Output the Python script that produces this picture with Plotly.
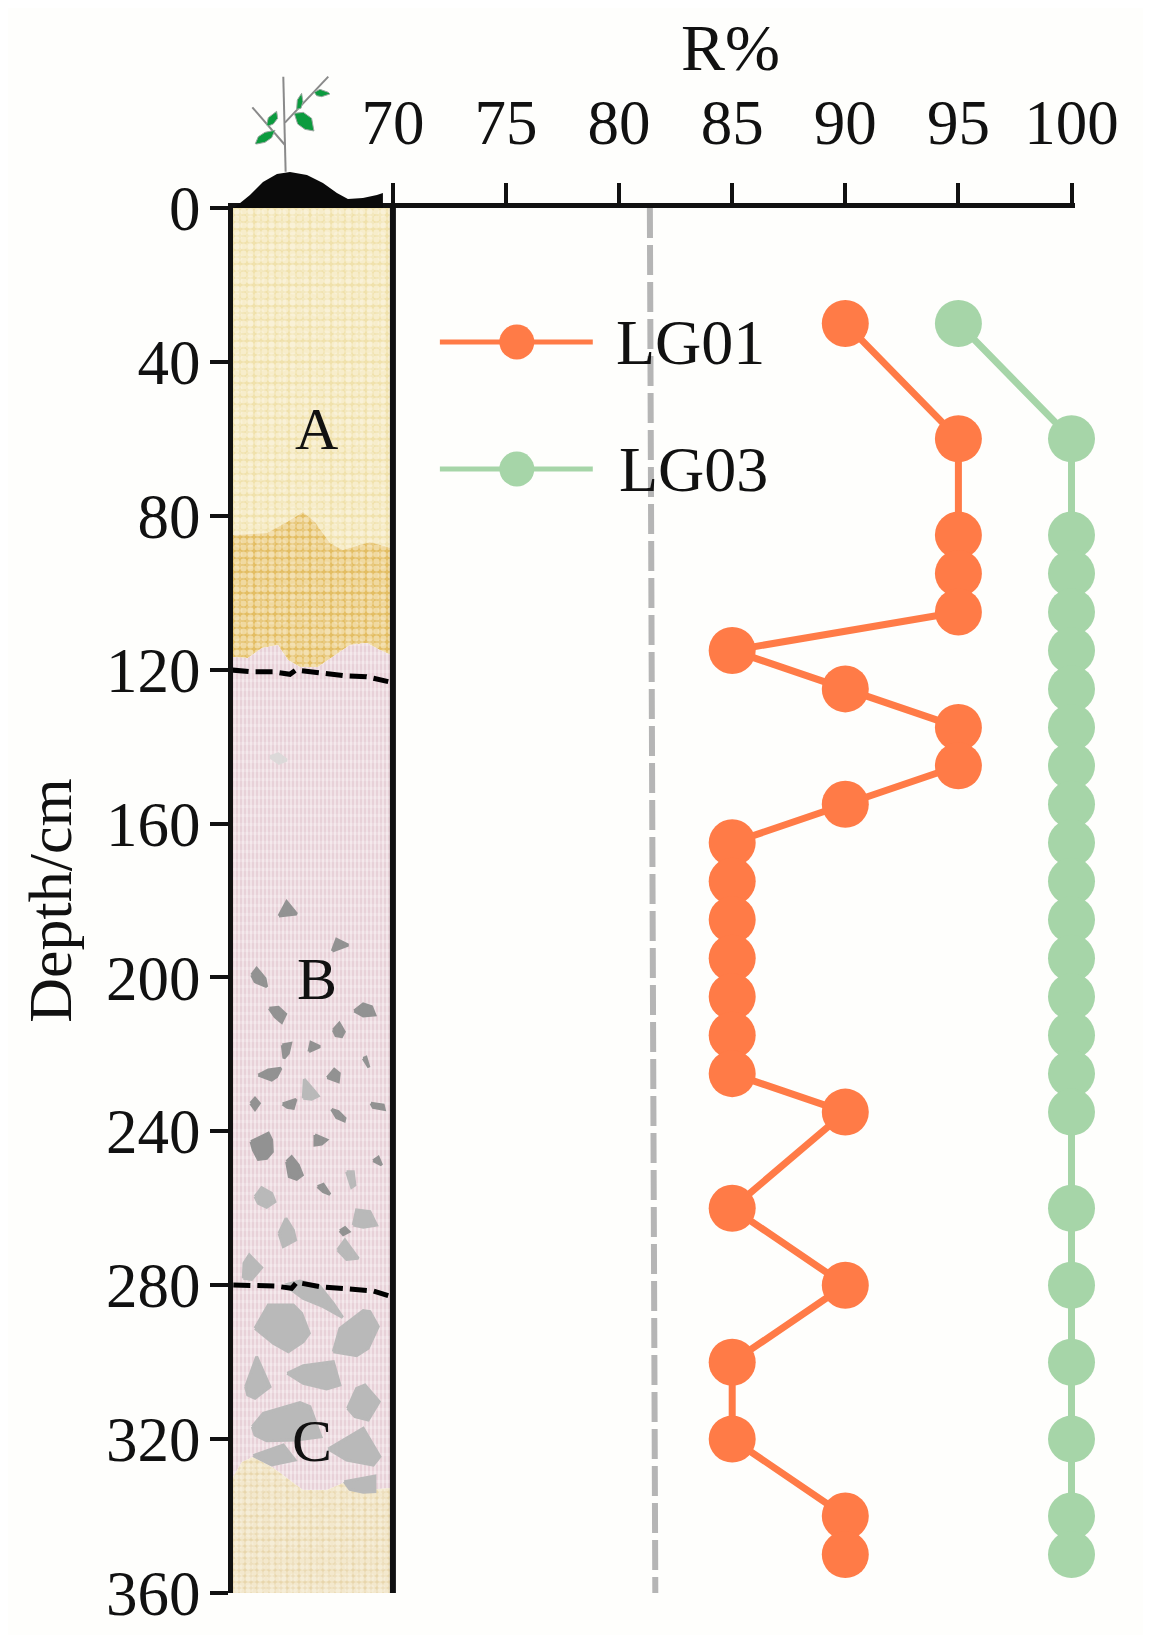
import plotly.graph_objects as go

# readings
depth = [30, 60, 85, 95, 105, 115, 125, 135, 145, 155, 165, 175, 185, 195,
         205, 215, 225, 235, 260, 280, 300, 320, 340, 350]
lg01 = [90, 95, 95, 95, 95, 85, 90, 95, 95, 90, 85, 85, 85, 85,
        85, 85, 85, 90, 85, 90, 85, 85, 90, 90]
lg03 = [95, 100, 100, 100, 100, 100, 100, 100, 100, 100, 100, 100, 100, 100,
        100, 100, 100, 100, 100, 100, 100, 100, 100, 100]
threshold_x = [81.36, 81.6]
threshold_y = [0, 360]
x_ticks = [70, 75, 80, 85, 90, 95, 100]
y_ticks = [0, 40, 80, 120, 160, 200, 240, 280, 320, 360]

W, H = 1151, 1643
BODY = 8  # page margin around the plot div
FIG_H = H - 2 * BODY
L, R, T, B = 233, 1075.5, 208, 1593
PX_PER_X = (1072 - 393) / 30
X_MIN = 70 - (393 - L) / PX_PER_X
X_MAX = 70 + (R - 393) / PX_PER_X
FONT = 'Liberation Serif'
INK = '#111111'
ORANGE = '#ff7b47'
GREEN = '#a6d5a8'
CLEAR = 'rgba(0,0,0,0)'


# the soil column is an illustration, traced in picture pixels
def to_x(p):
    return 70 + (p - 393) / PX_PER_X


def to_y(p):
    return (p - T) * 360 / (B - T)


def to_data(points):
    return [to_x(p[0]) for p in points], [to_y(p[1]) for p in points]


def unzoom(points, x0, y0):
    return [(x0 + a / 3, y0 + b / 3) for a, b in points]


top_edge = [(233, 208), (391, 208)]
dark_top = [(233, 535), (267, 533), (287, 522), (303, 512), (315, 522), (330, 543), (343, 550), (370, 542), (391, 548)]
pink_top = [(233, 657), (248, 658), (262, 648), (278, 645), (288, 660), (300, 667), (318, 667), (333, 657), (350, 645), (367, 643), (380, 650), (391, 655)]
low_top = [(233, 1477), (242, 1462), (253, 1457), (272, 1467), (287, 1478), (303, 1490), (327, 1490), (343, 1483), (367, 1490), (391, 1488)]
bottom_edge = [(233, 1593), (391, 1593)]

hill = [(234, 208), (250, 195), (263, 182), (277, 174), (290, 172), (307, 175), (323, 183), (337, 193), (348, 199), (363, 198), (377, 195), (383, 193), (383, 208)]
leaves = [
    [(166, 281), (175, 260), (195, 247), (225, 241), (215, 263), (195, 277), (170, 282)],
    [(200, 225), (205, 203), (230, 184), (233, 205), (220, 222), (205, 228)],
    [(283, 190), (310, 187), (335, 205), (342, 243), (315, 238), (293, 222)],
    [(290, 178), (292, 150), (305, 130), (309, 155), (303, 175)],
    [(343, 127), (360, 118), (385, 127), (390, 132), (365, 140), (350, 137)],
]
twigs = [
    [(250, 80), (257, 365)],
    [(157, 172), (255, 285)],
    [(385, 80), (255, 218)],
]

dark_stones = [unzoom(s, 200, 850) for s in [
    [(237, 198), (260, 155), (290, 192)],
    [(397, 303), (410, 268), (445, 285)],
    [(155, 375), (170, 355), (195, 385), (200, 410), (165, 395)],
    [(208, 475), (235, 472), (257, 492), (245, 517), (225, 500)],
    [(463, 483), (490, 462), (515, 470), (525, 495), (490, 498)],
    [(400, 540), (418, 520), (433, 545), (425, 560), (408, 557)],
    [(247, 585), (272, 580), (265, 610), (252, 625)],
    [(327, 605), (333, 577), (360, 590)],
    [(490, 625), (498, 622), (507, 652)],
    [(175, 675), (205, 660), (243, 655), (230, 680), (215, 690)],
    [(382, 683), (403, 658), (418, 670), (415, 695)],
    [(152, 760), (165, 745), (178, 760), (165, 778)],
    [(248, 762), (288, 748), (280, 775), (262, 772)],
    [(513, 760), (550, 765), (553, 778), (520, 772)],
    [(395, 778), (415, 785), (435, 805), (433, 813), (410, 803)],
    [(153, 875), (205, 850), (215, 870), (217, 905), (200, 925), (175, 928), (160, 900)],
    [(345, 855), (380, 870), (365, 882), (345, 885)],
    [(260, 935), (275, 920), (295, 945), (307, 975), (290, 988), (268, 980)],
    [(520, 932), (535, 922), (545, 945)],
    [(353, 1010), (370, 1003), (390, 1033), (370, 1025)],
]]
dark_stones.append(unzoom([(420, 92), (435, 83), (447, 95), (430, 104)], 200, 1200))

light_stones = [unzoom(s, 200, 850) for s in [
    [(310, 745), (313, 688), (345, 725), (355, 738), (335, 748)],
    [(440, 965), (460, 965), (465, 1005), (455, 1012)],
    [(165, 1040), (185, 1013), (215, 1030), (225, 1055), (200, 1072), (175, 1060)],
]] + [unzoom(s, 200, 1200) for s in [
    [(237, 100), (258, 55), (280, 90), (287, 120), (250, 140)],
    [(460, 75), (470, 30), (510, 35), (530, 75), (490, 82)],
    [(413, 150), (435, 120), (475, 175), (440, 178)],
    [(130, 235), (132, 190), (148, 165), (185, 203), (155, 238)],
    [(255, 255), (300, 243), (360, 260), (400, 310), (428, 352), (370, 320), (310, 295), (275, 270)],
    [(165, 385), (205, 315), (280, 315), (305, 340), (328, 400), (310, 425), (265, 455), (220, 430)],
    [(400, 455), (420, 385), (490, 332), (510, 335), (535, 380), (505, 445), (470, 467)],
    [(262, 520), (310, 497), (400, 485), (420, 555), (380, 567), (310, 550)],
    [(137, 560), (170, 470), (210, 560), (165, 595), (143, 585)],
    [(443, 625), (470, 565), (495, 555), (538, 605), (505, 660), (465, 650)],
    [(157, 680), (190, 640), (300, 608), (330, 620), (363, 710), (290, 720), (200, 722), (165, 705)],
    [(160, 767), (250, 735), (285, 780), (215, 795)],
    [(385, 747), (490, 685), (540, 770), (520, 795), (440, 780)],
    [(433, 845), (525, 828), (525, 875), (490, 877), (450, 868)],
]]
faint_stone = [unzoom([(210, 830), (235, 822), (260, 840), (237, 850)], 200, 480)]

boundary_1 = unzoom([(95, 570), (150, 575), (220, 575), (270, 583), (288, 570), (350, 577), (430, 587), (500, 590), (565, 605)], 200, 480)
boundary_2 = unzoom([(100, 255), (225, 258), (275, 265), (290, 247), (360, 260), (440, 268), (520, 273), (565, 287)], 200, 1200)

fig = go.Figure()


def add_layer(upper, lower, bg, fg, shape, size, solidity):
    xs, ys = to_data(upper + lower[::-1] + upper[:1])
    fig.add_trace(go.Scatter(
        x=xs, y=ys, mode='lines', fill='toself', line=dict(width=0),
        fillcolor=bg,
        fillpattern=dict(shape=shape, bgcolor=bg, fgcolor=fg, size=size, solidity=solidity),
        showlegend=False, hoverinfo='skip',
    ))


def add_stones(stones, color):
    xs, ys = [], []
    for s in stones:
        a, b = to_data(s + s[:1])
        xs += a + [None]
        ys += b + [None]
    fig.add_trace(go.Scatter(
        x=xs, y=ys, mode='lines', fill='toself', fillcolor=color,
        line=dict(width=3, color=color), showlegend=False, hoverinfo='skip',
    ))


# soil layers, a second sparse pattern on top breaks up the regular grid
add_layer(top_edge, dark_top, '#f0e1ab', '#fdfaec', '.', 7, 0.6)
add_layer(top_edge, dark_top, CLEAR, 'rgba(255,255,255,0.45)', '.', 11, 0.4)
add_layer(dark_top, pink_top, '#e3bd62', '#fdf5de', '.', 7, 0.6)
add_layer(dark_top, pink_top, CLEAR, 'rgba(255,255,255,0.35)', '.', 11, 0.4)
add_layer(pink_top, low_top, '#e7cfd6', '#fcf8f8', '|', 4, 0.55)
add_layer(pink_top, low_top, CLEAR, 'rgba(255,255,255,0.4)', '-', 9, 0.35)
add_layer(low_top, bottom_edge, '#e8d6ac', '#fefaee', '.', 6, 0.65)
add_layer(low_top, bottom_edge, CLEAR, 'rgba(255,255,255,0.4)', '.', 11, 0.4)

add_stones(faint_stone, '#dcd9d9')
add_stones(dark_stones, '#929292')
add_stones(light_stones, '#b9b9b9')

for line in (boundary_1, boundary_2):
    xs, ys = to_data(line)
    fig.add_trace(go.Scatter(
        x=xs, y=ys, mode='lines', line=dict(color='black', width=5, dash='17px,7px'),
        showlegend=False, hoverinfo='skip',
    ))

# right wall of the column
fig.add_trace(go.Scatter(
    x=[70, 70], y=[0, 360], mode='lines', line=dict(color=INK, width=6),
    showlegend=False, hoverinfo='skip',
))

# threshold line
fig.add_trace(go.Scatter(
    x=threshold_x, y=threshold_y, mode='lines',
    line=dict(color='#b5b5b5', width=6, dash='30px,7px'),
    showlegend=False, hoverinfo='skip',
))

# series
fig.add_trace(go.Scatter(
    x=lg03, y=depth, mode='lines+markers', name='LG03', cliponaxis=False,
    line=dict(color=GREEN, width=7),
    marker=dict(color=GREEN, size=47),
    showlegend=False,
))
fig.add_trace(go.Scatter(
    x=lg01, y=depth, mode='lines+markers', name='LG01', cliponaxis=False,
    line=dict(color=ORANGE, width=7),
    marker=dict(color=ORANGE, size=47),
    showlegend=False,
))

# legend keys, drawn by hand because the built-in one caps marker size
for key_y, color in ((342, ORANGE), (469, GREEN)):
    fig.add_trace(go.Scatter(
        x=[to_x(440), to_x(593)], y=[to_y(key_y), to_y(key_y)], mode='lines',
        line=dict(color=color, width=5), showlegend=False, hoverinfo='skip',
    ))
    fig.add_trace(go.Scatter(
        x=[to_x(517)], y=[to_y(key_y)], mode='markers',
        marker=dict(color=color, size=35), showlegend=False, hoverinfo='skip',
    ))

annotations = [
    dict(text='LG01', x=to_x(614), y=to_y(342), xanchor='left', yanchor='middle', font=dict(size=64)),
    dict(text='LG03', x=to_x(617), y=to_y(469), xanchor='left', yanchor='middle', font=dict(size=64)),
    dict(text='A', x=to_x(317), y=to_y(429), xanchor='center', yanchor='middle', font=dict(size=60)),
    dict(text='B', x=to_x(317), y=to_y(979), xanchor='center', yanchor='middle', font=dict(size=60)),
    dict(text='C', x=to_x(312), y=to_y(1441), xanchor='center', yanchor='middle', font=dict(size=60)),
]
for a in annotations:
    a.update(xref='x', yref='y', showarrow=False)
    a['font'].update(family=FONT, color=INK)


def paper_x(x):
    return (x - L) / (R - L)


def paper_y(y):
    return (B - y) / (B - T)


annotations.append(dict(
    text='R%', xref='paper', yref='paper', x=paper_x(731), y=paper_y(48), xanchor='center', yanchor='middle',
    showarrow=False, font=dict(family=FONT, size=66, color=INK),
))


def path(points):
    return 'M ' + ' L '.join(f'{paper_x(a):.5f},{paper_y(b):.5f}' for a, b in points) + ' Z'


shapes = [dict(type='path', xref='paper', yref='paper', path=path(hill),
               fillcolor='#0a0a0a', line=dict(width=0), layer='above')]
for t in twigs:
    p = unzoom(t, 200, 50)
    shapes.append(dict(type='line', xref='paper', yref='paper',
                       x0=paper_x(p[0][0]), y0=paper_y(p[0][1]), x1=paper_x(p[1][0]), y1=paper_y(p[1][1]),
                       line=dict(color='#8a8a8a', width=2), layer='above'))
for leaf in leaves:
    shapes.append(dict(type='path', xref='paper', yref='paper', path=path(unzoom(leaf, 200, 50)),
                       fillcolor='#0b9b3e', line=dict(color='#9aa8a0', width=1), layer='above'))

fig.update_layout(
    width=W - 2 * BODY, height=FIG_H, autosize=False,
    margin=dict(l=L - BODY, r=W - BODY - R, t=T - BODY, b=FIG_H + BODY - B, pad=0),
    paper_bgcolor='#fefefc', plot_bgcolor='rgba(0,0,0,0)',
    font=dict(family=FONT, color=INK, size=60),
    showlegend=False,
    annotations=annotations,
    shapes=shapes,
    xaxis=dict(
        side='top', range=[X_MIN, X_MAX], tickmode='array', tickvals=x_ticks, automargin=False,
        ticks='outside', ticklen=20, tickwidth=4, tickcolor=INK,
        showline=True, linewidth=5, linecolor=INK, showgrid=False, zeroline=False,
        tickfont=dict(family=FONT, size=63), ticklabelstandoff=14,
    ),
    yaxis=dict(
        range=[360, 0], tickmode='array', tickvals=y_ticks, automargin=False,
        ticks='outside', ticklen=18, tickwidth=4, tickcolor=INK,
        showline=True, linewidth=5, linecolor=INK, showgrid=False, zeroline=False,
        tickfont=dict(family=FONT, size=63), ticklabelstandoff=-3, ticklabeloverflow='allow',
        title=dict(text='Depth/cm', font=dict(family=FONT, size=62), standoff=16),
    ),
)

fig.write_html("out.html")
